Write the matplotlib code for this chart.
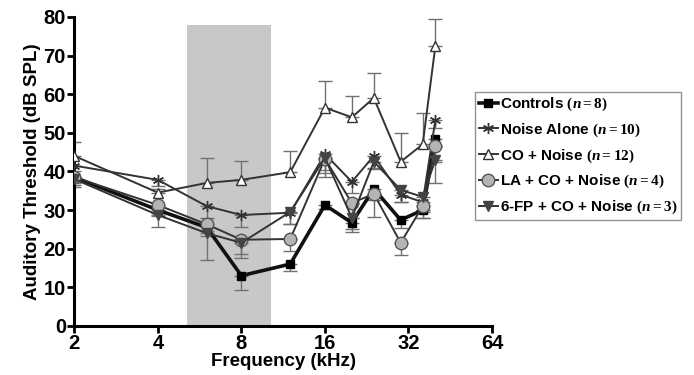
#!/usr/bin/env python3
# coding: utf-8

import numpy as np
import matplotlib.pyplot as plt

plt.rcParams['font.family'] = ['Liberation Sans', 'DejaVu Sans']
plt.rcParams['mathtext.fontset'] = 'custom'
plt.rcParams['mathtext.rm'] = 'Liberation Serif:bold'
plt.rcParams['mathtext.it'] = 'Liberation Serif:italic:bold'

# 频率 (kHz)
freqs = [2, 4, 6, 8, 12, 16, 20, 24, 30, 36, 40]

# 各组阈值 (dB SPL)
controls = [38.5, 30.0, 25.5, 13.0, 16.0, 31.3, 26.7, 35.5, 27.4, 30.0, 48.3]
noise_alone = [41.5, 37.8, 31.0, 28.7, 29.3, 44.5, 37.3, 44.0, 34.0, 32.0, 53.3]
co_noise = [44.0, 34.5, 37.0, 37.8, 39.8, 56.5, 54.0, 59.0, 42.5, 47.0, 72.5]
la_co_noise = [38.5, 31.3, 26.3, 22.3, 22.5, 43.3, 31.8, 34.2, 21.5, 31.0, 46.5]
fp_co_noise = [38.0, 28.7, 24.0, 21.5, 29.5, 43.5, 28.0, 42.5, 35.2, 33.4, 43.0]

# 误差棒 (下 / 上)
controls_err = [1.5, 1.5, 1.0, 3.7, 1.8, 1.0, 2.5, 3.0, 2.0, 2.0, 2.0]
noise_err = [1.5, 1.5, 3.0, 3.0, 3.0, 6.0, 3.0, 3.0, 2.0, 2.0, 2.0]
co_err = [3.5, 1.0, 6.5, 5.0, 5.5, 7.0, 5.5, 6.5, 7.5, 8.0, 7.0]
la_err = [2.0, 2.0, 3.0, 4.7, 3.0, 3.0, 4.0, 6.0, 3.1, 3.0, 4.0]
fp_err = [2.0, 3.0, 7.0, 3.0, 3.0, 4.0, 3.0, 2.0, 3.0, 4.0, 6.0]

# 阴影频带 (kHz)
band = (5.1, 10.2)
band_top = 78

fig = plt.figure(figsize=(6.94, 3.75), dpi=100)
ax = fig.add_axes([0.107, 0.131, 0.602, 0.824])

ax.fill_between(band, 0, band_top, color='#c8c8c8', lw=0, zorder=0)

zeros = [0] * len(freqs)
ecol = '#707070'
series = [
    (controls, [controls_err, zeros], 'Controls $(n = 8)$',
     dict(marker='s', ms=6, mfc='black', mec='black', lw=2.6, color='#111111')),
    (noise_alone, [noise_err, zeros], 'Noise Alone $(n = 10)$',
     dict(marker=(6, 2, 0), ms=8, mec='#333333', mew=1.0, lw=1.4, color='#333333')),
    (co_noise, [zeros, co_err], 'CO + Noise $(n = 12)$',
     dict(marker='^', ms=7, mfc='white', mec='#333333', mew=1.0, lw=1.4, color='#333333')),
    (la_co_noise, [la_err, zeros], 'LA + CO + Noise $(n = 4)$',
     dict(marker='o', ms=9, mfc='#b4b4b4', mec='#555555', mew=1.0, lw=1.4, color='#333333')),
    (fp_co_noise, [fp_err, zeros], '6-FP + CO + Noise $(n = 3)$',
     dict(marker='v', ms=7, mfc='#444444', mec='#444444', lw=1.4, color='#333333')),
]

handles = []
for vals, err, label, style in series:
    ax.errorbar(freqs, vals, yerr=err, fmt='none', ecolor=ecol, elinewidth=1.0,
                capsize=5, capthick=1.0, zorder=2)
    h, = ax.plot(freqs, vals, label=label, zorder=3, **style)
    handles.append(h)

ax.set_xscale('log', base=2)
ax.set_xlim(2, 64)
ax.set_ylim(0, 80)
ax.set_xticks([2, 4, 8, 16, 32, 64])
ax.set_xticklabels(['2', '4', '8', '16', '32', '64'])
ax.set_yticks(np.arange(0, 81, 10))
ax.minorticks_off()

for s in ['top', 'right']:
    ax.spines[s].set_visible(False)
for s in ['left', 'bottom']:
    ax.spines[s].set_linewidth(2.2)
ax.tick_params(width=2.0, length=5, labelsize=14.5, pad=1)
for t in ax.get_xticklabels() + ax.get_yticklabels():
    t.set_fontweight('bold')

ax.set_xlabel('Frequency (kHz)', fontsize=13.5, fontweight='bold', labelpad=0)
ax.set_ylabel('Auditory Threshold (dB SPL)', fontsize=13.5, fontweight='bold', labelpad=2)

leg = fig.legend(handles=handles, loc='upper left', bbox_to_anchor=(0.684, 0.755),
                 prop={'weight': 'bold', 'size': 11}, frameon=True, fancybox=False,
                 edgecolor='#777777', handlelength=1.3, handletextpad=0.1,
                 borderpad=0.25, labelspacing=0.55, borderaxespad=0)
leg.get_frame().set_linewidth(1.0)

plt.savefig('out.png', dpi=100)
